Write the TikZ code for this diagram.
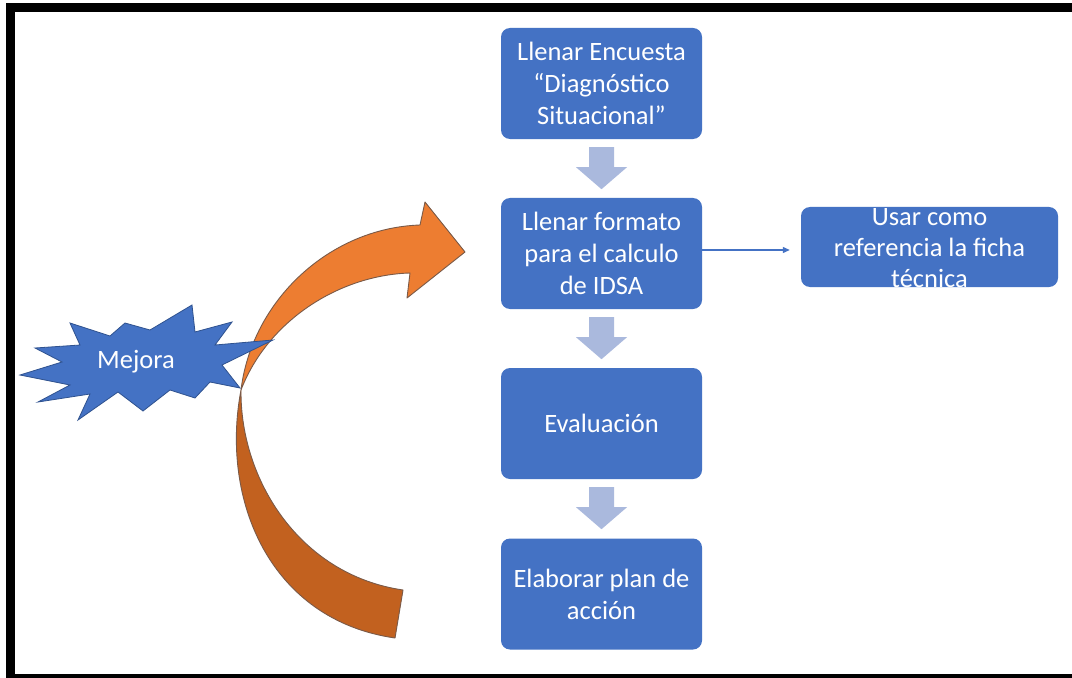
\documentclass[tikz,border=0pt]{standalone}
\usepackage{fontspec}
\setmainfont{Carlito}
\usetikzlibrary{calc,arrows.meta}
\definecolor{boxblue}{HTML}{4472C4}
\definecolor{staredge}{HTML}{2F528F}
\definecolor{flowgrey}{HTML}{AAB9DD}
\definecolor{orangefront}{HTML}{ED7D31}
\definecolor{orangeback}{HTML}{C2611F}
\definecolor{orangeedge}{HTML}{7A5A48}
\begin{document}
\begin{tikzpicture}[x=1bp,y=-1bp,
  stepbox/.style={fill=boxblue, rounded corners=9bp, minimum width=201bp,
    minimum height=111bp, text=white, align=center, inner sep=0pt,
    font=\fontsize{26.5bp}{32bp}\selectfont},
  sidebox/.style={fill=boxblue, rounded corners=9bp, minimum width=257bp,
    minimum height=80bp, inner sep=0pt},
  boxtext/.style={text=white, align=center, inner sep=0pt,
    font=\fontsize{26.5bp}{31bp}\selectfont},
  flowarrow/.style={fill=flowgrey},
  thinconn/.style={draw=boxblue, line width=1.1bp,
    -{Triangle[length=7bp,width=6bp]}, shorten >=11bp},
  bandfront/.style={fill=orangefront, draw=orangeedge, line width=0.9bp, line join=round},
  bandback/.style={fill=orangeback, draw=orangeedge, line width=0.9bp, line join=round},
  burst/.style={fill=boxblue, draw=staredge, line width=0.8bp, line join=miter}]

\useasboundingbox (0,0) rectangle (1072,678);
% white sheet, reaching a little past the page edges
\fill[white] (-20,-20) rectangle (1100,700);

% black frame: top, left and bottom bands
\fill[black] (6,3) rectangle (1080,12);
\fill[black] (6,3) rectangle (15,690);
\fill[black] (6,674) rectangle (1080,690);

% curved arrow: darker back band
\path[bandback] (241,390) .. controls (220,500) and (270,620) .. (395,638)
  -- (403,590) .. controls (300,575) and (240,480) .. (241,390) -- cycle;
% curved arrow: front band with its head
\path[bandfront] (241,390) .. controls (252,300) and (330,228) .. (420,225)
  -- (425,202) -- (465,252) -- (407,298) -- (410,273)
  .. controls (340,275) and (268,320) .. (241,390) -- cycle;

% burst shape
\path[burst] (20,375) -- (62,362) -- (35,348) -- (80,345) -- (70,323)
  -- (110,336) -- (125,323) -- (150,330) -- (192,305) -- (195,332)
  -- (232,322) -- (215,345) -- (273,340) -- (222,365) -- (240,388)
  -- (210,382) -- (195,398) -- (170,390) -- (143,411) -- (118,392)
  -- (78,420) -- (90,394) -- (38,402) -- (70,385) -- cycle;
\node[boxtext] (mejora) at (136,362) {Mejora};

% process steps
\node[stepbox] (b1) at (601.5,83.5) {Llenar Encuesta\\“Diagnóstico\\Situacional”};
\node[stepbox] (b2) at (601.5,253.5) {Llenar formato\\para el calculo\\de IDSA};
\node[stepbox] (b3) at (601.5,423.5) {Evaluación};
\node[stepbox] (b4) at (601.5,594) {Elaborar plan de\\acción};

% side note
\node[sidebox] (side) at (929.5,247) {};
\node[boxtext] (sidetext) at ([yshift=-1bp]side.center) {Usar como\\referencia la ficha\\técnica};

% block arrows between steps
\foreach \a in {b1,b2,b3}{
  \fill[flowarrow] ($(\a.south)+(-12.5,8)$) -- ($(\a.south)+(12.5,8)$)
    -- ($(\a.south)+(12.5,28)$) -- ($(\a.south)+(25.5,28)$)
    -- ($(\a.south)+(0,50)$) -- ($(\a.south)+(-25.5,28)$)
    -- ($(\a.south)+(-12.5,28)$) -- cycle;
}

% thin connector to the side note
\draw[thinconn] ([yshift=3.5bp]b2.east) -- ([yshift=3.5bp]b2.east -| side.west);
\end{tikzpicture}
\end{document}
